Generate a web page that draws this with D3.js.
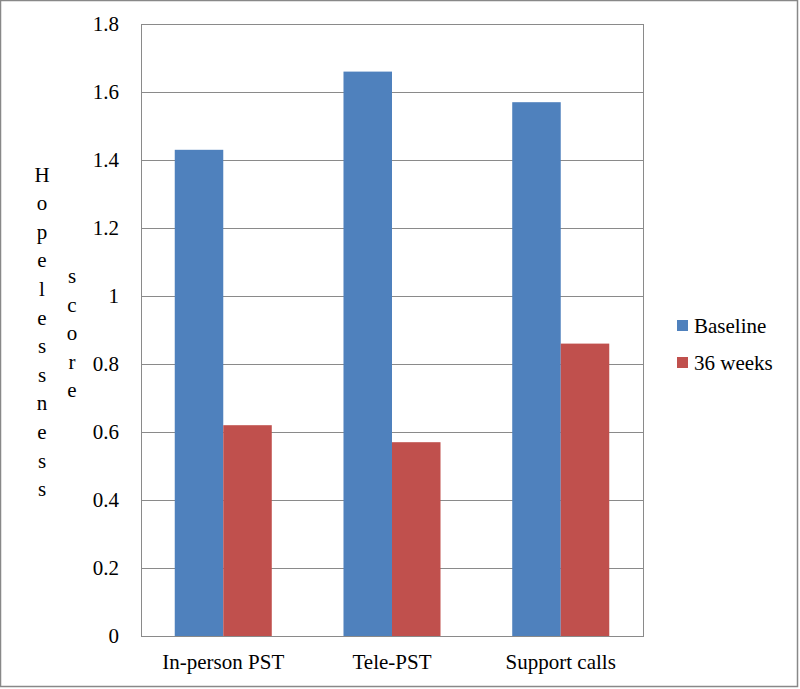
<!DOCTYPE html>
<html><head><meta charset="utf-8">
<script src="https://cdn.jsdelivr.net/npm/d3@7"></script>
<style>body{margin:0;background:#fff}svg{display:block}
svg text{font-family:"Liberation Serif","Times New Roman",Times,serif !important;fill:#000}
</style>
</head><body>
<script>
const categories = ["In-person PST", "Tele-PST", "Support calls"];
const seriesNames = ["Baseline", "36 weeks"];
const baseline = [1.43, 1.66, 1.57];
const weeks36 = [0.62, 0.57, 0.86];
const yTicks = [0, 0.2, 0.4, 0.6, 0.8, 1, 1.2, 1.4, 1.6, 1.8];
const colors = ["#4F81BD", "#C0504D"];

const W = 800, H = 689;
const svg = d3.select("body").append("svg").attr("width", W).attr("height", H);

svg.append("rect").attr("x", 0.5).attr("y", 0.5).attr("width", W - 3).attr("height", H - 3)
  .attr("fill", "#fff").attr("stroke", "#888").attr("stroke-width", 1.5);

const pL = 141, pR = 643, pT = 24, pB = 636;
const x = d3.scaleBand().domain(categories).range([pL, pR]).paddingInner(0.425).paddingOuter(0.2);
const xs = d3.scaleBand().domain(seriesNames).range([0, x.bandwidth()]);
const y = d3.scaleLinear().domain([0, 1.8]).range([pB, pT]);

const g = svg.append("g");
g.selectAll("line.grid").data(yTicks).join("line")
  .attr("x1", pL).attr("x2", pR + 1)
  .attr("y1", d => Math.round(y(d)) + 0.5).attr("y2", d => Math.round(y(d)) + 0.5)
  .attr("stroke", "#8a8a8a").attr("stroke-width", 1);
g.append("line").attr("x1", pL + 0.5).attr("x2", pL + 0.5).attr("y1", pT).attr("y2", pB + 1)
  .attr("stroke", "#8a8a8a");
g.append("line").attr("x1", pR + 0.5).attr("x2", pR + 0.5).attr("y1", pT).attr("y2", pB + 1)
  .attr("stroke", "#8a8a8a");

const yAxis = d3.axisLeft(y).tickValues(yTicks).tickFormat(d3.format("~g")).tickSize(0).tickPadding(22);
const ya = svg.append("g").attr("transform", `translate(${pL},0)`).call(yAxis);
ya.select(".domain").remove();
ya.selectAll("text").attr("font-size", 21);

const data = categories.map((c, i) => ({c, vals: [baseline[i], weeks36[i]]}));
const grp = svg.selectAll("g.grp").data(data).join("g").attr("class", "grp").attr("transform", d => `translate(${x(d.c)},0)`);
grp.selectAll("rect").data(d => d.vals.map((v, j) => ({v, s: seriesNames[j], j}))).join("rect")
  .attr("x", d => xs(d.s)).attr("width", xs.bandwidth())
  .attr("y", d => y(d.v)).attr("height", d => y(0) - y(d.v))
  .attr("fill", d => colors[d.j]);

const xAxis = d3.axisBottom(x).tickSize(0).tickPadding(18);
const xa = svg.append("g").attr("transform", `translate(0,${pB})`).call(xAxis);
xa.select(".domain").remove();
xa.selectAll("text").attr("font-size", 21);

// y axis title: letters stacked vertically
const title1 = "Hopelessness".split("");
const title2 = "score".split("");
svg.append("g").selectAll("text").data(title1).join("text")
  .attr("x", 42).attr("y", (d, i) => 181.5 + i * 28.6)
  .attr("text-anchor", "middle").attr("font-size", 21).text(d => d);
svg.append("g").selectAll("text").data(title2).join("text")
  .attr("x", 72).attr("y", (d, i) => 283 + i * 28.5)
  .attr("text-anchor", "middle").attr("font-size", 21).text(d => d);

// legend
const leg = svg.append("g").selectAll("g").data(seriesNames).join("g")
  .attr("transform", (d, i) => `translate(677,${326 + i * 37})`);
leg.append("rect").attr("x", 0).attr("y", -6).attr("width", 11).attr("height", 11)
  .attr("fill", (d, i) => colors[i]);
leg.append("text").attr("x", 17).attr("y", 0).attr("dy", "0.33em")
  .attr("font-size", 21).text(d => d);
</script>
</body></html>
